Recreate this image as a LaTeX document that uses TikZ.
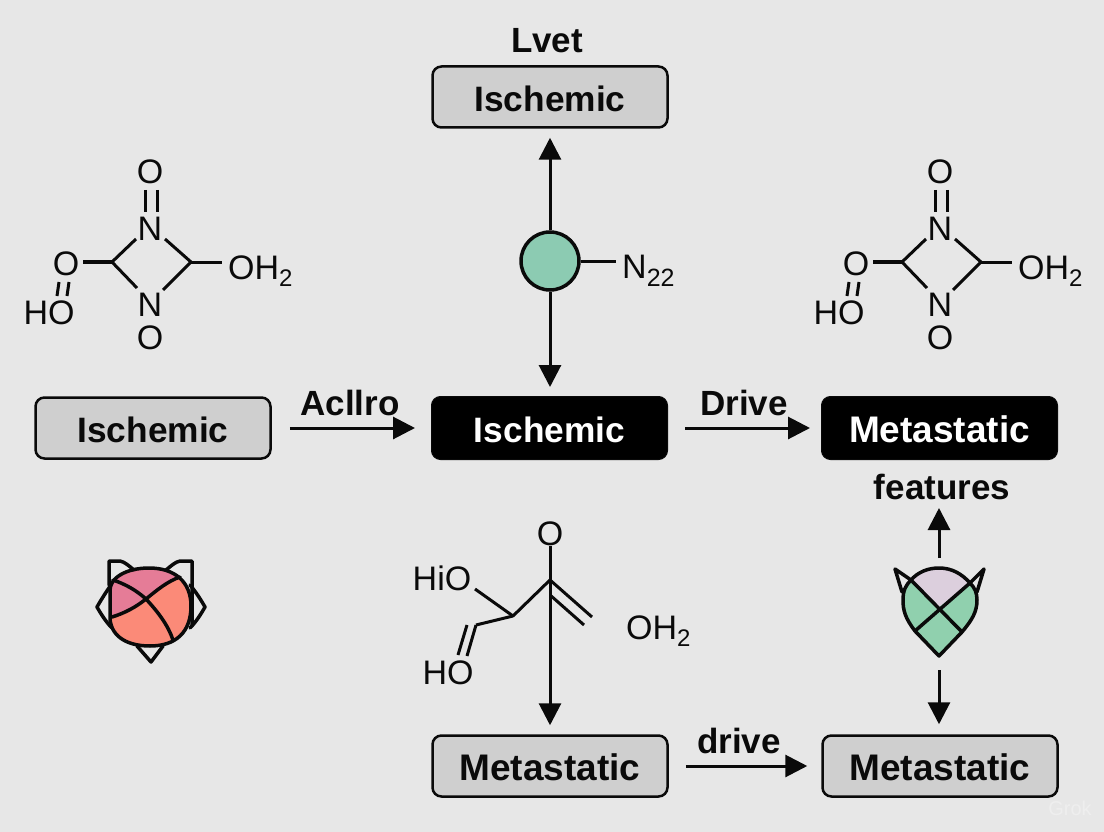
\documentclass[tikz,border=0pt]{standalone}
\usepackage{fontspec}
\setmainfont{Liberation Sans}
\usetikzlibrary{arrows.meta}
\definecolor{bgc}{HTML}{E7E7E7}
\definecolor{boxg}{HTML}{CFCFCF}
\definecolor{ink}{HTML}{0A0A0A}
\definecolor{teal}{HTML}{8CCBB2}
\definecolor{pinkc}{HTML}{E57C97}
\definecolor{salm}{HTML}{FB8A78}
\definecolor{lilac}{HTML}{DCCFDD}
\definecolor{greenc}{HTML}{90D0AE}
\newcommand{\lowtwo}{\raisebox{-0.22em}{\fontsize{24}{24}\selectfont 2}}
\newcommand{\isch}{\fontsize{35.3}{40}\selectfont Ischemic}
\newcommand{\meta}{\fontsize{37}{40}\selectfont Metastatic}
\tikzset{
  graybox/.style={draw=ink,line width=2.5pt,fill=boxg,rounded corners=9pt,minimum width=235pt,minimum height=61pt,inner sep=0pt,text height=32pt,text depth=2.5pt,font=\bfseries,text=ink},
  blackbox/.style={draw=ink,line width=1pt,fill=black,rounded corners=9pt,minimum width=236pt,minimum height=63pt,inner sep=0pt,text height=32pt,text depth=2.5pt,font=\bfseries,text=white},
  lbl/.style={inner sep=0pt,font=\fontsize{35}{40}\selectfont\bfseries,text=ink},
  atom/.style={inner sep=0pt,font=\fontsize{34}{38}\selectfont,text=ink},
  arr/.style={draw=ink,line width=3pt,-{Triangle[length=22pt,width=22pt]}},
  bond/.style={draw=ink,line width=3pt},
  outl/.style={draw=ink,line width=3.5pt,line join=round,line cap=round}
}
\begin{document}
\begin{tikzpicture}[x=1pt,y=-1pt]
\useasboundingbox (0,0) rectangle (1104,832);
\fill[bgc] (0,0) rectangle (1104,832);
% boxes
\node[graybox] (top) at (550,97) {\isch};
\node[graybox] (left) at (153,428) {\isch};
\node[blackbox] (mid) at (549.5,428) {\isch};
\node[blackbox] (right) at (939.5,428) {\meta};
\node[graybox] (bmid) at (550,766) {\meta};
\node[graybox] (bright) at (940,766) {\meta};
% labels
\node[lbl] (lvet) at (547,41) {Lvet};
\node[lbl] (acl) at (350,403) {Acllro};
\node[lbl] (drv) at (744,403) {Drive};
\node[lbl] (feat) at (942,487) {features};
\node[lbl] (drvb) at (739,741) {drive};
% central hub
\node[circle,draw=ink,line width=3.5pt,fill=teal,minimum size=58pt,inner sep=0pt] (hub) at (550,261) {};
\node[atom,anchor=west] (n22) at (622,271) {N\raisebox{-0.22em}{\fontsize{25}{25}\selectfont 22}};
\coordinate (hubr) at (616,261);
\draw[bond] (hub.east) -- (hubr);
\draw[arr,shorten >=9pt] (hub.north) -- (hub.north |- top.south);
\draw[arr,shorten >=9pt] (hub.south) -- (hub.south |- mid.north);
% horizontal arrows
\draw[arr,shorten <=18pt,shorten >=16pt] (left.east) -- (mid.west);
\draw[arr,shorten <=17pt,shorten >=11pt] (mid.east) -- (right.west);
\draw[arr,shorten <=17pt,shorten >=14pt] (bmid.east) -- (bright.west);
% molecules 1 and 2
\foreach \dx/\m in {0/a,790/b}{
\begin{scope}[xshift=\dx pt]
\node[atom] (O1\m) at (150,172) {O};
\node[atom] (N1\m) at (150,229) {N};
\node[atom] (N2\m) at (150,305) {N};
\node[atom] (O2\m) at (150,338) {O};
\node[atom] (O3\m) at (66,264) {O};
\node[atom] (HO\m) at (49,313) {HO};
\node[atom,anchor=west] (OH\m) at (228,271) {OH\lowtwo};
\coordinate (CL\m) at (112,262);
\coordinate (CR\m) at (191,262);
\draw[bond] (145,190) -- (145,212);
\draw[bond] (157,190) -- (157,212);
\draw[bond] (136,239) -- (CL\m) -- (137,288);
\draw[bond] (165,239) -- (CR\m) -- (163,290);
\draw[draw=ink,line width=4pt] (83,262) -- (CL\m);
\draw[bond] (CR\m) -- (222,262);
\draw[bond] (59,282) -- (57,296);
\draw[bond] (69,282) -- (67,296);
\end{scope}}
% molecule 3
\node[atom] (O5) at (550,534) {O};
\node[atom] (HiO) at (442,578) {HiO};
\node[atom] (HO5) at (448,673) {HO};
\node[atom,anchor=west] (OH5) at (626,631) {OH\lowtwo};
\coordinate (C5) at (550,580);
\coordinate (C6) at (513,616);
\draw[bond,line join=round] (475,589) -- (C6) -- (C5) -- (592,617);
\draw[bond] (550,595) -- (584,625);
\draw[bond,line join=round] (C6) -- (476,625);
\draw[bond] (476,625) -- (467,656);
\draw[bond] (467,625) -- (458,655);
\draw[arr,shorten >=9pt] (O5.south) -- (O5.south |- bmid.north);
% cat-like emblem
\def\blob{(149,568) .. controls (175,568) and (191,582) .. (191,606) .. controls (191,632) and (176,646) .. (150,646) .. controls (124,646) and (110,634) .. (110,617) -- (110,590) .. controls (110,578) and (126,568) .. (149,568) -- cycle}
\fill[salm] \blob;
\begin{scope}
\clip \blob;
\fill[pinkc] (100,622) -- (112,617) .. controls (125,613) and (136,607) .. (146,599) .. controls (157,590) and (168,581) .. (185,575) -- (200,560) -- (100,560) -- cycle;
\end{scope}
\draw[outl] (109,585) -- (109,561) -- (120,561) .. controls (125,562) and (129,566) .. (134,570);
\draw[outl] (166,570) .. controls (171,566) and (175,562) .. (180,561) -- (192,561) -- (192,625);
\draw[outl] (111,585) .. controls (106,592) and (101,600) .. (97,607) .. controls (101,614) and (106,622) .. (112,628);
\draw[outl] (190,585) .. controls (196,592) and (201,600) .. (205,607) .. controls (201,614) and (196,622) .. (190,628);
\draw[outl] (137,646) -- (151,662) -- (163,646);
\draw[outl] (113,580) .. controls (125,584) and (136,590) .. (146,599) .. controls (158,612) and (168,625) .. (173,640);
\draw[outl] (112,617) .. controls (125,613) and (136,607) .. (146,599) .. controls (157,590) and (168,581) .. (180,577);
\draw[outl] \blob;
% shield emblem
\def\shieldbody{(939,656) -- (915,631) .. controls (905,618) and (903,610) .. (903,600) .. controls (903,590) and (906,585) .. (911,580) .. controls (918,572) and (928,568) .. (939,568) .. controls (952,568) and (962,574) .. (970,583) .. controls (975,588) and (977,593) .. (977,600) .. controls (977,612) and (972,620) .. (962,632) -- cycle}
\fill[greenc] \shieldbody;
\fill[lilac] (911,580) .. controls (918,572) and (928,568) .. (939,568) .. controls (952,568) and (962,574) .. (970,583) -- (939,607) -- cycle;
\draw[outl] (911,580) -- (895,569) -- (902,592);
\draw[outl] (970,583) -- (984,569) -- (977,592);
\draw[outl] (911,580) -- (962,632);
\draw[outl] (970,583) -- (915,631);
\draw[outl] \shieldbody;
\coordinate (shT) at (939,558);
\coordinate (shB) at (939,670);
\coordinate (featB) at (939,506);
\draw[arr,shorten >=2pt] (shT) -- (featB);
\draw[arr,shorten >=10pt] (shB) -- (shB |- bright.north);
\node[inner sep=0pt,font=\fontsize{20}{20}\selectfont,text=white,opacity=0.3] (wm) at (1070,808) {Grok};
\end{tikzpicture}
\end{document}
